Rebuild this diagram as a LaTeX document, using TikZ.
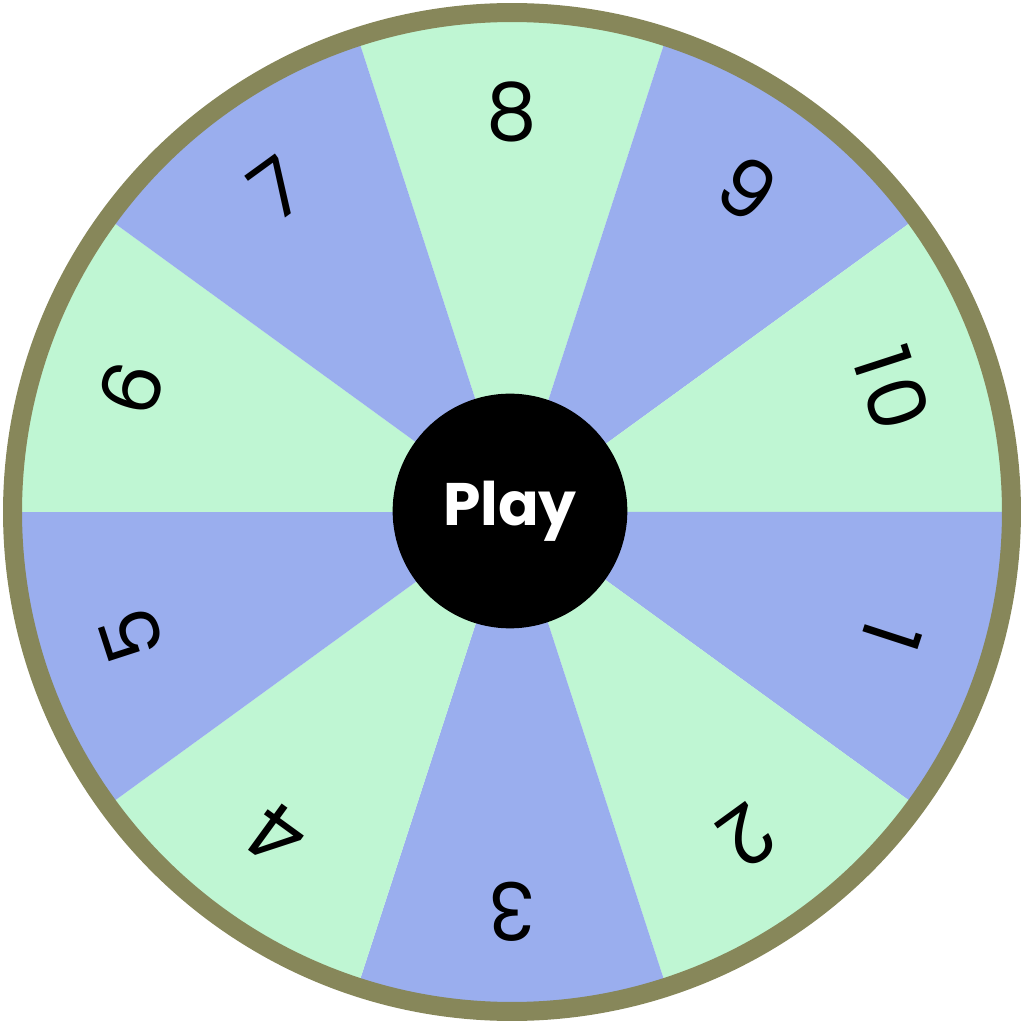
\documentclass[tikz,border=0pt]{standalone}
\usepackage{fontspec}
\setmainfont{Poppins}
\definecolor{wgreen}{HTML}{BFF6D3}
\definecolor{wblue}{HTML}{9AAEEE}
\definecolor{wrim}{HTML}{87875A}
\begin{document}
\begin{tikzpicture}[x=0.75pt,y=0.75pt,
  digit/.style={inner sep=0pt, font=\fontsize{60}{60}\selectfont, text=black},
  playbtn/.style={circle, fill=black, minimum size=176pt, inner sep=0pt, text=white,
    font=\fontsize{45}{45}\selectfont\bfseries}]
\useasboundingbox (-512,-516) rectangle (514,512);
% sectors: number k centered at angle 90 - 36*(k-8)
\foreach \k/\col in {8/wgreen,9/wblue,10/wgreen,1/wblue,2/wgreen,3/wblue,4/wgreen,5/wblue,6/wgreen,7/wblue}{
  \pgfmathsetmacro{\mid}{90-36*(\k-8)}
  \pgfmathsetmacro{\sa}{\mid-18}
  \pgfmathsetmacro{\ea}{\mid+18}
  \fill[\col] (0,0) -- (\sa:374.6pt) arc[start angle=\sa, end angle=\ea, radius=374.6pt] -- cycle;
}
\draw[wrim, line width=14.25pt] (0,0) circle[radius=374.6pt];
\foreach \k/\txt in {1/1,2/2,3/3,4/4,5/5,6/6,7/7,8/8,9/9,10/1\kern5pt0}{
  \pgfmathsetmacro{\mid}{90-36*(\k-8)}
  \pgfmathsetmacro{\rot}{\mid-90}
  \node[digit, rotate=\rot] (n\k) at (\mid:300pt) {\txt};
}
\node[playbtn] (play) at (-2,1) {Play};
\end{tikzpicture}
\end{document}
